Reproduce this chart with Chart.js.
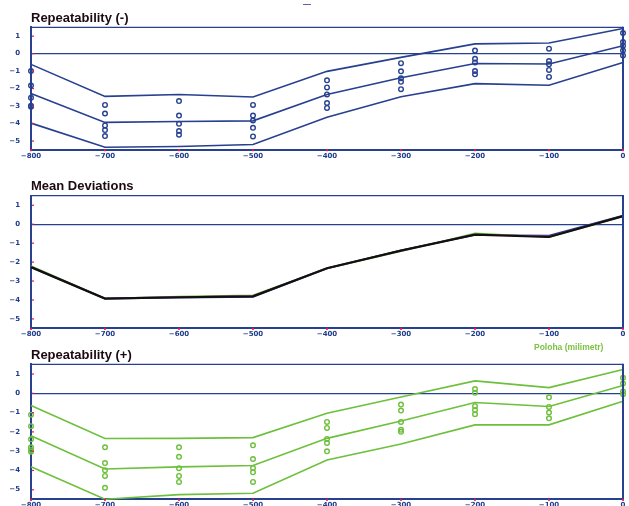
<!DOCTYPE html>
<html><head><meta charset="utf-8">
<script src="https://cdn.jsdelivr.net/npm/chart.js@4.4.0/dist/chart.umd.min.js"></script>
<style>
html,body{margin:0;padding:0;background:#fff;width:629px;height:506px;overflow:hidden;position:relative}
canvas{position:absolute;left:0}
#legend{position:absolute;left:534px;top:342px;font:bold 8.5px "Liberation Sans",Arial,sans-serif;color:#7cc242;white-space:nowrap}
#dash{position:absolute;left:303px;top:4px;width:8px;height:1px;background:#6a5aa8}
</style></head><body>
<div id="dash"></div>
<canvas id="c1" width="629" height="165" style="top:0px"></canvas>
<canvas id="c2" width="629" height="173" style="top:165px"></canvas>
<canvas id="c3" width="629" height="168" style="top:338px"></canvas>
<div id="legend">Poloha (milimetr)</div>
<script>
// ---- data ----
const positions = [-800, -700, -600, -500, -400, -300, -200, -100, 0];
const xTickLabels = ['−800', '−700', '−600', '−500', '−400', '−300', '−200', '−100', '0'];
const yTickValues = [-5, -4, -3, -2, -1, 0, 1];
const yTickLabels = ['−5', '−4', '−3', '−2', '−1', '0', '1'];

const titles = ['Repeatability (-)', 'Mean Deviations', 'Repeatability (+)'];

// Repeatability (-)
const minusUpper = [-0.62, -2.45, -2.34, -2.49, -1.02, -0.22, 0.55, 0.60, 1.43];
const minusMean  = [-2.28, -3.94, -3.89, -3.85, -2.34, -1.38, -0.57, -0.60, 0.45];
const minusLower = [-3.98, -5.36, -5.32, -5.20, -3.64, -2.47, -1.72, -1.81, -0.51];
const minusSamples = [
  [-1.00, -1.83, -2.53, -2.98, -3.04],
  [-2.94, -3.43, -4.11, -4.38, -4.72],
  [-2.72, -3.55, -4.02, -4.43, -4.64],
  [-2.94, -3.55, -3.83, -4.25, -4.74],
  [-1.53, -1.94, -2.34, -2.83, -3.11],
  [-0.55, -1.02, -1.42, -1.62, -2.04],
  [0.17, -0.30, -0.51, -1.00, -1.19],
  [0.28, -0.43, -0.62, -0.94, -1.34],
  [1.17, 0.66, 0.45, 0.17, -0.11]
];

// Mean deviations
const meanAll     = [-2.27, -3.93, -3.86, -3.81, -2.33, -1.40, -0.56, -0.68, 0.42];
const meanMagenta = [-2.26, -3.92, -3.85, -3.80, -2.32, -1.39, -0.55, -0.66, 0.43];

// Repeatability (+)
const plusUpper = [-0.64, -2.35, -2.34, -2.30, -1.04, -0.20, 0.64, 0.29, 1.23];
const plusMean  = [-2.21, -3.93, -3.82, -3.75, -2.34, -1.44, -0.48, -0.69, 0.40];
const plusLower = [-3.81, -5.50, -5.26, -5.19, -3.46, -2.63, -1.64, -1.64, -0.42];
const plusSamples = [
  [-1.11, -1.71, -2.39, -2.80, -2.94, -3.03],
  [-2.80, -3.62, -4.00, -4.29, -4.90],
  [-2.80, -3.30, -3.89, -4.29, -4.60],
  [-2.70, -3.41, -3.88, -4.10, -4.60],
  [-1.49, -1.80, -2.37, -2.58, -3.01],
  [-0.59, -0.90, -1.49, -1.90, -2.00],
  [0.22, 0.02, -0.67, -0.87, -1.09],
  [-0.21, -0.71, -1.00, -1.30],
  [0.80, 0.50, 0.09, -0.05]
];

// ---- styling ----
const BLUE = '#27408f', GREEN = '#6cc03c', TICK = '#1f3c8c', RED = '#e8194a';
const BLACK = '#111111', MAGENTA = '#c0359a';

function pts(ys) { return positions.map((x, i) => ({x: x, y: ys[i]})); }
function samplePts(samples) {
  const out = [];
  samples.forEach((arr, i) => arr.forEach(v => out.push({x: positions[i], y: v})));
  return out;
}
function lineDs(ys, color, w) {
  return {data: pts(ys), showLine: true, borderColor: color, borderWidth: w, pointRadius: 0,
          tension: 0, fill: false, clip: false};
}
function pointDs(samples, color) {
  return {data: samplePts(samples), showLine: false, borderColor: color, backgroundColor: 'rgba(0,0,0,0)',
          pointRadius: 2.3, pointBorderWidth: 1.4, clip: false};
}

const framePlugin = {
  id: 'frame',
  afterDraw(chart) {
    const {ctx, chartArea: a, scales} = chart;
    ctx.save();
    ctx.strokeStyle = BLUE;
    ctx.lineWidth = 1.2;
    ctx.beginPath(); ctx.moveTo(a.left, a.top); ctx.lineTo(a.right, a.top); ctx.stroke();
    ctx.lineWidth = 2;
    ctx.beginPath(); ctx.moveTo(a.right, a.top - 0.6); ctx.lineTo(a.right, a.bottom); ctx.stroke();
    ctx.fillStyle = RED;
    scales.x.ticks.forEach(t => {
      const px = scales.x.getPixelForValue(t.value);
      ctx.fillRect(px - 1, a.bottom - 0.5, 2, 2);
    });
    scales.y.ticks.forEach(t => {
      const py = scales.y.getPixelForValue(t.value);
      ctx.fillRect(a.left + 1, py - 0.5, 2, 1.2);
    });
    ctx.restore();
  }
};

function makeChart(id, title, datasets, titlePad, axisH) {
  const tickFont = {family: 'DejaVu Sans', weight: 'bold', size: 7};
  return new Chart(document.getElementById(id), {
    type: 'scatter',
    data: {datasets: datasets},
    plugins: [framePlugin],
    options: {
      responsive: false, animation: false, devicePixelRatio: 1,
      layout: {padding: {left: 0, right: 6, top: 0, bottom: 0}},
      plugins: {
        legend: {display: false}, tooltip: {enabled: false},
        title: {display: true, text: title, align: 'start', fullSize: false, color: '#1c0a12',
                font: {family: 'Liberation Sans', weight: 'bold', size: 13, lineHeight: 1.2},
                padding: titlePad}
      },
      scales: {
        x: {
          type: 'linear', min: -800, max: 0,
          afterBuildTicks: s => { s.ticks = positions.map(v => ({value: v})); },
          afterFit: s => { s.height = axisH; },
          ticks: {callback: (v, i) => xTickLabels[i], font: tickFont, color: TICK, padding: 2,
                  maxRotation: 0, autoSkip: false},
          grid: {display: false, drawTicks: false},
          border: {display: true, color: BLUE, width: 2}
        },
        y: {
          type: 'linear', min: -5.5, max: 1.5,
          afterBuildTicks: s => { s.ticks = yTickValues.map(v => ({value: v})); },
          afterFit: s => { s.width = 31; s.paddingTop = 0; s.paddingBottom = 0; },
          ticks: {callback: (v, i) => yTickLabels[i], font: tickFont, color: TICK, padding: 11, autoSkip: false},
          grid: {display: true, drawTicks: false,
                 color: c => (c.tick && c.tick.value === 0) ? BLUE : 'rgba(0,0,0,0)', lineWidth: 1.2},
          border: {display: true, color: BLUE, width: 2}
        }
      }
    }
  });
}

makeChart('c1', titles[0], [
  pointDs(minusSamples, BLUE),
  lineDs(minusUpper, BLUE, 1.6),
  lineDs(minusMean, BLUE, 1.6),
  lineDs(minusLower, BLUE, 1.6)
], {top: 10.5, bottom: 1.2}, 15.3);

makeChart('c2', titles[1], [
  lineDs(meanAll, BLACK, 2.2),
  lineDs(meanMagenta, MAGENTA, 1.5),
  lineDs(plusMean, GREEN, 1.5),
  lineDs(minusMean, BLUE, 1.5)
], {top: 13.9, bottom: 1.2}, 9.7);

makeChart('c3', titles[2], [
  pointDs(plusSamples, GREEN),
  lineDs(plusUpper, GREEN, 1.6),
  lineDs(plusMean, GREEN, 1.6),
  lineDs(plusLower, GREEN, 1.6)
], {top: 9.9, bottom: 0.8}, 6.7);
</script>
</body></html>
